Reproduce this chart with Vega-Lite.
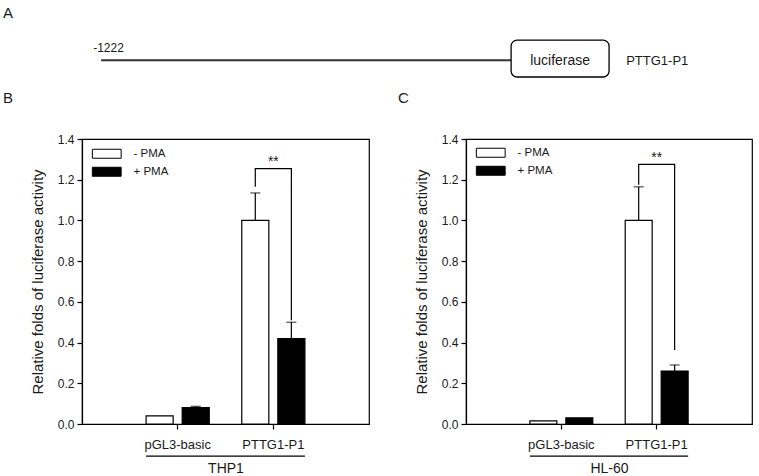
{
  "$schema": "https://vega.github.io/schema/vega-lite/v6.json",
  "background": "white",
  "padding": {"left": 2, "top": 6, "right": 0, "bottom": 0},
  "bounds": "flush",
  "spacing": 50,
  "config": {
    "font": "Liberation Sans",
    "view": {"stroke": "black", "strokeWidth": 1.2},
    "axis": {"grid": false, "domainColor": "black", "domainWidth": 1.2, "tickColor": "black", "tickWidth": 1.2, "tickSize": 5, "labelFont": "Liberation Sans", "titleFont": "Liberation Sans", "labelColor": "#1a1a1a", "titleColor": "#1a1a1a", "titleFontWeight": "normal"},
    "title": {"font": "Liberation Sans", "fontWeight": "normal", "fontSize": 15, "color": "#1a1a1a", "anchor": "start", "frame": "group"},
    "text": {"font": "Liberation Sans", "color": "#1a1a1a"}
  },
  "datasets": {
    "schematic_line": [{"start": -1222, "end": 0, "row": 0.48}],
    "schematic_box": [{"start": 0, "end": 292, "bottom": 0.2, "top": 0.815}],
    "schematic_mid": [{"pos": -1200, "row": 0.69, "label": "-1222"}],
    "schematic_box_label": [{"pos": 146, "row": 0.47, "label": "luciferase"}],
    "schematic_left": [{"pos": 343, "row": 0.47, "label": "PTTG1-P1"}],
    "bars_thp1": [
      {"construct": "pGL3-basic", "pma": "- PMA", "value": 0.04},
      {"construct": "pGL3-basic", "pma": "+ PMA", "value": 0.08},
      {"construct": "PTTG1-P1", "pma": "- PMA", "value": 1.0},
      {"construct": "PTTG1-P1", "pma": "+ PMA", "value": 0.42}
    ],
    "err_thp1": [
      {"construct": "pGL3-basic", "pma": "+ PMA", "value": 0.08, "upper": 0.087},
      {"construct": "PTTG1-P1", "pma": "- PMA", "value": 1.0, "upper": 1.135},
      {"construct": "PTTG1-P1", "pma": "+ PMA", "value": 0.42, "upper": 0.5}
    ],
    "bracket_thp1": [
      {"construct": "PTTG1-P1", "pma": "- PMA", "y": 1.165, "step": 1},
      {"construct": "PTTG1-P1", "pma": "- PMA", "y": 1.254, "step": 2},
      {"construct": "PTTG1-P1", "pma": "+ PMA", "y": 1.254, "step": 3},
      {"construct": "PTTG1-P1", "pma": "+ PMA", "y": 0.51, "step": 4}
    ],
    "star_thp1": [{"construct": "PTTG1-P1", "y": 1.287, "label": "**"}],
    "group_thp1": [{"from": "pGL3-basic", "to": "PTTG1-P1", "y": -0.158}],
    "bars_hl60": [
      {"construct": "pGL3-basic", "pma": "- PMA", "value": 0.015},
      {"construct": "pGL3-basic", "pma": "+ PMA", "value": 0.03},
      {"construct": "PTTG1-P1", "pma": "- PMA", "value": 1.0},
      {"construct": "PTTG1-P1", "pma": "+ PMA", "value": 0.26}
    ],
    "err_hl60": [
      {"construct": "PTTG1-P1", "pma": "- PMA", "value": 1.0, "upper": 1.165},
      {"construct": "PTTG1-P1", "pma": "+ PMA", "value": 0.26, "upper": 0.29}
    ],
    "bracket_hl60": [
      {"construct": "PTTG1-P1", "pma": "- PMA", "y": 1.175, "step": 1},
      {"construct": "PTTG1-P1", "pma": "- PMA", "y": 1.275, "step": 2},
      {"construct": "PTTG1-P1", "pma": "+ PMA", "y": 1.275, "step": 3},
      {"construct": "PTTG1-P1", "pma": "+ PMA", "y": 0.363, "step": 4}
    ],
    "star_hl60": [{"construct": "PTTG1-P1", "y": 1.307, "label": "**"}],
    "group_hl60": [{"from": "pGL3-basic", "to": "PTTG1-P1", "y": -0.158}]
  },
  "vconcat": [
    {
      "width": 671,
      "height": 60,
      "view": {"stroke": null},
      "title": {"text": "A", "dx": -79, "offset": 8},
      "layer": [
        {
          "data": {"name": "schematic_line"},
          "mark": {"type": "rule", "strokeWidth": 2, "color": "#333"},
          "encoding": {
            "x": {"field": "start", "type": "quantitative", "scale": {"domain": [-1279, 721], "nice": false, "zero": false}, "axis": null},
            "x2": {"field": "end"},
            "y": {"field": "row", "type": "quantitative", "scale": {"domain": [0, 1], "nice": false}, "axis": null}
          }
        },
        {
          "data": {"name": "schematic_box"},
          "mark": {"type": "rect", "cornerRadius": 6, "fill": "white", "stroke": "black", "strokeWidth": 1.3},
          "encoding": {
            "x": {"field": "start", "type": "quantitative"},
            "x2": {"field": "end"},
            "y": {"field": "bottom", "type": "quantitative"},
            "y2": {"field": "top"}
          }
        },
        {
          "data": {"name": "schematic_mid"},
          "mark": {"type": "text", "fontSize": 12, "align": "center", "baseline": "middle"},
          "encoding": {
            "x": {"field": "pos", "type": "quantitative"},
            "y": {"field": "row", "type": "quantitative"},
            "text": {"field": "label"}
          }
        },
        {
          "data": {"name": "schematic_box_label"},
          "mark": {"type": "text", "fontSize": 14, "align": "center", "baseline": "middle"},
          "encoding": {
            "x": {"field": "pos", "type": "quantitative"},
            "y": {"field": "row", "type": "quantitative"},
            "text": {"field": "label"}
          }
        },
        {
          "data": {"name": "schematic_left"},
          "mark": {"type": "text", "fontSize": 13, "align": "left", "baseline": "middle"},
          "encoding": {
            "x": {"field": "pos", "type": "quantitative"},
            "y": {"field": "row", "type": "quantitative"},
            "text": {"field": "label"}
          }
        }
      ]
    },
    {
      "hconcat": [
        {
          "width": 287,
          "height": 285,
          "title": {"text": "B", "dx": -79, "offset": 27},
          "layer": [
            {
              "data": {"name": "bars_thp1"},
              "mark": {"type": "bar", "stroke": "black", "strokeWidth": 1.2},
              "encoding": {
                "x": {"field": "construct", "type": "nominal", "title": "THP1", "sort": ["pGL3-basic", "PTTG1-P1"],
                  "scale": {"domain": ["pGL3-basic", "PTTG1-P1"], "paddingInner": 0.34, "paddingOuter": 0.67},
                  "axis": {"labelAngle": 0, "labelFontSize": 13, "labelPadding": 9, "titleFontSize": 14, "titlePadding": 10}},
                "xOffset": {"field": "pma", "type": "nominal", "scale": {"domain": ["- PMA", "+ PMA"], "paddingInner": 0.25, "paddingOuter": 0}},
                "y": {"field": "value", "type": "quantitative", "title": "Relative folds of luciferase activity",
                  "scale": {"domain": [0, 1.4], "nice": false},
                  "axis": {"values": [0, 0.2, 0.4, 0.6, 0.8, 1.0, 1.2, 1.4], "format": ".1f", "labelFontSize": 12, "labelPadding": 3, "titleFontSize": 15, "titlePadding": 12}},
                "fill": {"field": "pma", "type": "nominal", "scale": {"domain": ["- PMA", "+ PMA"], "range": ["white", "black"]},
                  "legend": {"title": null, "orient": "none", "legendX": 19, "legendY": 9, "padding": 0, "symbolType": "M-3.2,-1H3.2V1H-3.2Z", "symbolSize": 81, "symbolStrokeColor": "black", "symbolStrokeWidth": 1, "labelFontSize": 11.5, "labelOffset": 21, "rowPadding": 4, "labelColor": "#1a1a1a", "labelFont": "Liberation Sans"}}
              }
            },
            {
              "data": {"name": "err_thp1"},
              "mark": {"type": "rule", "color": "black", "strokeWidth": 1.2},
              "encoding": {
                "x": {"field": "construct", "type": "nominal", "title": "THP1"},
                "xOffset": {"field": "pma", "type": "nominal"},
                "y": {"field": "value", "type": "quantitative", "title": "Relative folds of luciferase activity"},
                "y2": {"field": "upper"}
              }
            },
            {
              "data": {"name": "err_thp1"},
              "mark": {"type": "tick", "color": "black", "size": 10, "thickness": 1.2},
              "encoding": {
                "x": {"field": "construct", "type": "nominal", "title": "THP1"},
                "xOffset": {"field": "pma", "type": "nominal"},
                "y": {"field": "upper", "type": "quantitative", "title": "Relative folds of luciferase activity"}
              }
            },
            {
              "data": {"name": "bracket_thp1"},
              "mark": {"type": "line", "color": "black", "strokeWidth": 1.2},
              "encoding": {
                "x": {"field": "construct", "type": "nominal", "title": "THP1"},
                "xOffset": {"field": "pma", "type": "nominal"},
                "y": {"field": "y", "type": "quantitative", "title": "Relative folds of luciferase activity"},
                "order": {"field": "step", "type": "quantitative"}
              }
            },
            {
              "data": {"name": "star_thp1"},
              "mark": {"type": "text", "fontSize": 14, "baseline": "middle"},
              "encoding": {
                "x": {"field": "construct", "type": "nominal", "title": "THP1"},
                "y": {"field": "y", "type": "quantitative", "title": "Relative folds of luciferase activity"},
                "text": {"field": "label"}
              }
            },
            {
              "data": {"name": "group_thp1"},
              "mark": {"type": "rule", "color": "black", "strokeWidth": 1.2},
              "encoding": {
                "x": {"field": "from", "type": "nominal", "bandPosition": 0, "title": "THP1"},
                "x2": {"field": "to", "bandPosition": 1},
                "y": {"field": "y", "type": "quantitative", "title": "Relative folds of luciferase activity"}
              }
            }
          ]
        },
        {
          "width": 286,
          "height": 285,
          "title": {"text": "C", "dx": -68, "offset": 27},
          "layer": [
            {
              "data": {"name": "bars_hl60"},
              "mark": {"type": "bar", "stroke": "black", "strokeWidth": 1.2},
              "encoding": {
                "x": {"field": "construct", "type": "nominal", "title": "HL-60", "sort": ["pGL3-basic", "PTTG1-P1"],
                  "scale": {"domain": ["pGL3-basic", "PTTG1-P1"], "paddingInner": 0.34, "paddingOuter": 0.67},
                  "axis": {"labelAngle": 0, "labelFontSize": 13, "labelPadding": 9, "titleFontSize": 14, "titlePadding": 10}},
                "xOffset": {"field": "pma", "type": "nominal", "scale": {"domain": ["- PMA", "+ PMA"], "paddingInner": 0.25, "paddingOuter": 0}},
                "y": {"field": "value", "type": "quantitative", "title": "Relative folds of luciferase activity",
                  "scale": {"domain": [0, 1.4], "nice": false},
                  "axis": {"values": [0, 0.2, 0.4, 0.6, 0.8, 1.0, 1.2, 1.4], "format": ".1f", "labelFontSize": 12, "labelPadding": 3, "titleFontSize": 15, "titlePadding": 12}},
                "fill": {"field": "pma", "type": "nominal", "scale": {"domain": ["- PMA", "+ PMA"], "range": ["white", "black"]},
                  "legend": {"title": null, "orient": "none", "legendX": 19, "legendY": 8, "padding": 0, "symbolType": "M-3.2,-1H3.2V1H-3.2Z", "symbolSize": 81, "symbolStrokeColor": "black", "symbolStrokeWidth": 1, "labelFontSize": 11.5, "labelOffset": 21, "rowPadding": 4, "labelColor": "#1a1a1a", "labelFont": "Liberation Sans"}}
              }
            },
            {
              "data": {"name": "err_hl60"},
              "mark": {"type": "rule", "color": "black", "strokeWidth": 1.2},
              "encoding": {
                "x": {"field": "construct", "type": "nominal", "title": "HL-60"},
                "xOffset": {"field": "pma", "type": "nominal"},
                "y": {"field": "value", "type": "quantitative", "title": "Relative folds of luciferase activity"},
                "y2": {"field": "upper"}
              }
            },
            {
              "data": {"name": "err_hl60"},
              "mark": {"type": "tick", "color": "black", "size": 10, "thickness": 1.2},
              "encoding": {
                "x": {"field": "construct", "type": "nominal", "title": "HL-60"},
                "xOffset": {"field": "pma", "type": "nominal"},
                "y": {"field": "upper", "type": "quantitative", "title": "Relative folds of luciferase activity"}
              }
            },
            {
              "data": {"name": "bracket_hl60"},
              "mark": {"type": "line", "color": "black", "strokeWidth": 1.2},
              "encoding": {
                "x": {"field": "construct", "type": "nominal", "title": "HL-60"},
                "xOffset": {"field": "pma", "type": "nominal"},
                "y": {"field": "y", "type": "quantitative", "title": "Relative folds of luciferase activity"},
                "order": {"field": "step", "type": "quantitative"}
              }
            },
            {
              "data": {"name": "star_hl60"},
              "mark": {"type": "text", "fontSize": 14, "baseline": "middle"},
              "encoding": {
                "x": {"field": "construct", "type": "nominal", "title": "HL-60"},
                "y": {"field": "y", "type": "quantitative", "title": "Relative folds of luciferase activity"},
                "text": {"field": "label"}
              }
            },
            {
              "data": {"name": "group_hl60"},
              "mark": {"type": "rule", "color": "black", "strokeWidth": 1.2},
              "encoding": {
                "x": {"field": "from", "type": "nominal", "bandPosition": 0, "title": "HL-60"},
                "x2": {"field": "to", "bandPosition": 1},
                "y": {"field": "y", "type": "quantitative", "title": "Relative folds of luciferase activity"}
              }
            }
          ]
        }
      ],
      "spacing": 97,
      "bounds": "flush",
      "resolve": {
        "scale": {"x": "independent", "y": "independent", "xOffset": "independent", "fill": "independent"},
        "legend": {"fill": "independent"}
      }
    }
  ]
}
